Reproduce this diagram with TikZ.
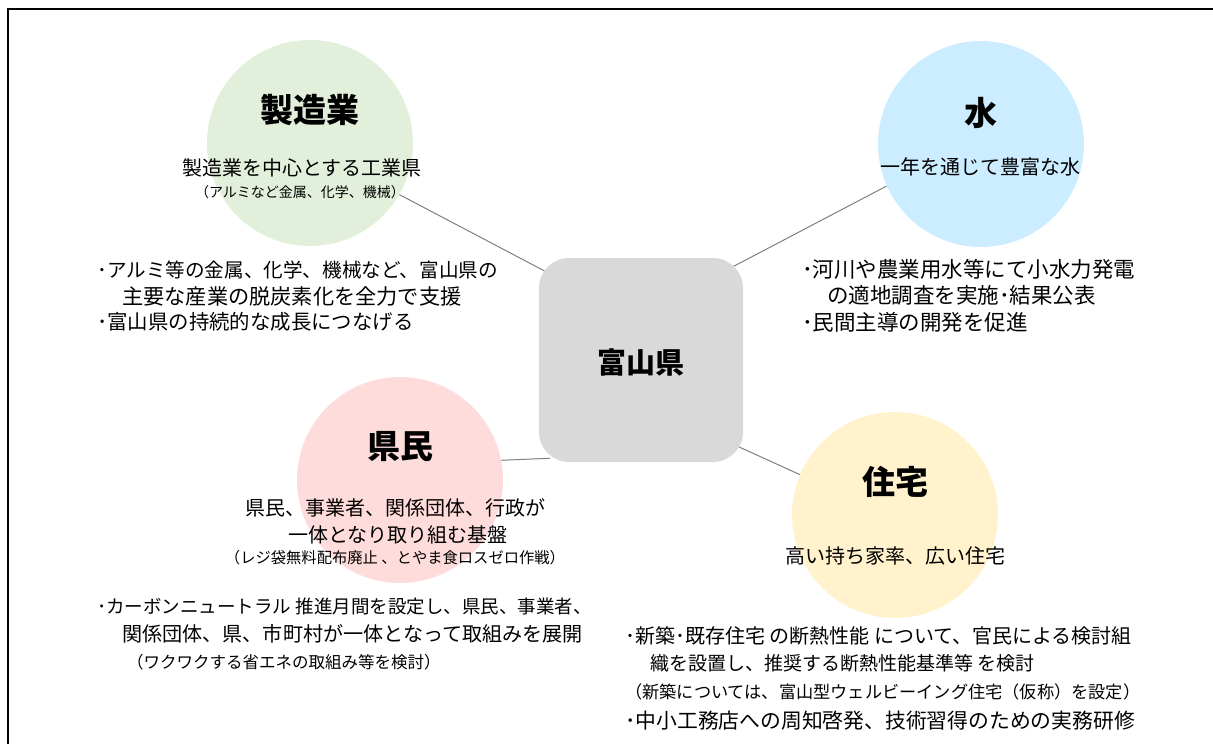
\documentclass[tikz,border=0pt]{standalone}
\usepackage{fontspec}
\setmainfont{Noto Sans CJK JP}
\usetikzlibrary{backgrounds,calc}
\definecolor{cgreen}{HTML}{E2EFDA}
\definecolor{cblue}{HTML}{CCECFF}
\definecolor{cpink}{HTML}{FFDCDC}
\definecolor{cyellow}{HTML}{FFF2CC}
\definecolor{cbox}{HTML}{D9D9D9}
\definecolor{cline}{HTML}{7F7F7F}
\newcommand{\fsz}[1]{\fontsize{#1}{#1}\selectfont}
\begin{document}
\begin{tikzpicture}[x=1pt,y=-1pt,
  bubble/.style={circle,minimum size=206pt,inner sep=0pt},
  hub/.style={rounded corners=30pt,fill=cbox,minimum width=204pt,minimum height=204pt,inner sep=0pt},
  ttl/.style={font=\fsz{33}\bfseries,inner sep=0pt},
  txt/.style={inner sep=0pt},
  sub/.style={font=\fsz{20},inner sep=0pt},
  lt/.style={anchor=west},
  link/.style={draw=cline,line width=1pt}]
\useasboundingbox (0,0) rectangle (1213,744);
\draw[line width=2.5pt] (8,744) -- (8,9) -- (1213,9);

% circles and hub
\node[bubble,fill=cgreen] (g) at (310,143) {};
\node[bubble,fill=cblue] (b) at (981,144) {};
\node[bubble,fill=cpink] (p) at (400,480) {};
\node[bubble,fill=cyellow] (y) at (895,515) {};
\node[hub] (c) at (641,360) {};
\node[font=\fsz{29}\bfseries,inner sep=0pt] (ct) at (641,362) {富山県};

% connectors
\begin{scope}[on background layer]
\draw[link] (g.-30) -- ($(g.-30)!1.15!(c.138)$);
\draw[link] (b.204) -- ($(b.204)!1.15!(c.44)$);
\draw[link] (p.11) -- ($(p.11)!1.3!(c.224)$);
\draw[link] (y.157) -- ($(y.157)!1.3!(c.-41)$);
\end{scope}

% green
\node[ttl] (gt) at (310,110) {製造業};
\node[sub] (g1) at (302,168) {製造業を中心とする工業県};
\node[txt,font=\fsz{14}] (g2) at (300,192) {（アルミなど金属、化学、機械）};
\node[txt,lt,font=\fsz{19.6}] (gb1) at (97,270) {･アルミ等の金属、化学、機械など、富山県の};
\node[txt,lt,font=\fsz{21.2}] (gb2) at (122,296) {主要な産業の脱炭素化を全力で支援};
\node[txt,lt,font=\fsz{20.4}] (gb3) at (97,322) {･富山県の持続的な成長につなげる};

% blue
\node[ttl] (bt) at (981,113) {水};
\node[sub] (b1) at (980,167) {一年を通じて豊富な水};
\node[txt,lt,font=\fsz{21.5}] (bb1) at (802,269) {･河川や農業用水等にて小水力発電};
\node[txt,lt,font=\fsz{21.5}] (bb2) at (827,295) {の適地調査を実施･結果公表};
\node[txt,lt,font=\fsz{21.5}] (bb3) at (802,322) {･民間主導の開発を促進};

% pink
\node[ttl] (pt) at (400,447) {県民};
\node[sub] (p1) at (395,508) {県民、事業者、関係団体、行政が};
\node[sub] (p2) at (398,535) {一体となり取り組む基盤};
\node[txt,font=\fsz{15.3}] (p3) at (395,558) {（レジ袋無料配布廃止 、とやま食ロスゼロ作戦）};
\node[txt,lt,font=\fsz{18.5}] (pb1) at (97,606) {･カーボンニュートラル 推進月間を設定し、県民、事業者、};
\node[txt,lt,font=\fsz{20.1}] (pb2) at (122,634) {関係団体、県、市町村が一体となって取組みを展開};
\node[txt,lt,font=\fsz{16.5}] (pb3) at (127,662) {（ワクワクする省エネの取組み等を検討）};

% yellow
\node[ttl] (yt) at (895,482) {住宅};
\node[sub] (y1) at (895,556) {高い持ち家率、広い住宅};
\node[txt,lt,font=\fsz{20}] (yb1) at (625,636) {･新築･既存住宅 の断熱性能 について、官民による検討組};
\node[txt,lt,font=\fsz{19}] (yb2) at (650,663) {織を設置し、推奨する断熱性能基準等 を検討};
\node[txt,lt,font=\fsz{17.2}] (yb3) at (625,692) {（新築については、富山型ウェルビーイング住宅（仮称）を設定）};
\node[txt,lt,font=\fsz{20.8}] (yb4) at (625,721) {･中小工務店への周知啓発、技術習得のための実務研修};
\end{tikzpicture}
\end{document}
